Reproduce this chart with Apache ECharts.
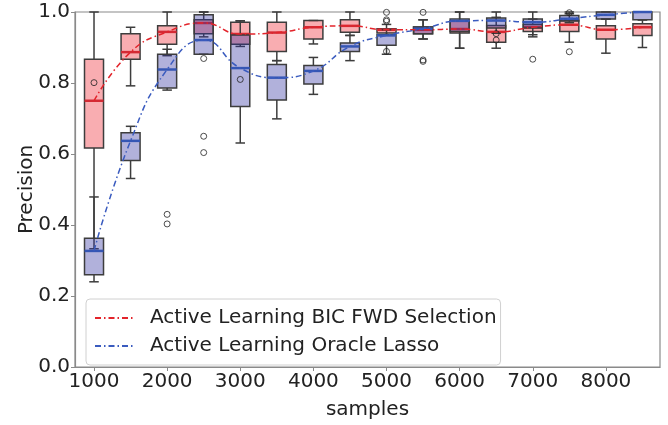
<!DOCTYPE html>
<html>
<head>
<meta charset="utf-8">
<script src="https://cdn.jsdelivr.net/npm/echarts@6/dist/echarts.min.js"></script>
<style>html,body{margin:0;padding:0;background:#fff}#c{width:668px;height:425px}</style>
</head>
<body>
<div id="c"></div>
<script>
const positions = [1000,1500,2000,2500,3000,3500,4000,4500,5000,5500,6000,6500,7000,7500,8000,8500];
const xTicks = [1000,2000,3000,4000,5000,6000,7000,8000];

// Active Learning BIC FWD Selection (red)
const bicLow  = [0.333,0.792,0.877,0.930,0.903,0.863,0.910,0.934,0.936,0.924,0.898,0.898,0.936,0.915,0.884,0.900];
const bicQ1   = [0.617,0.867,0.909,0.939,0.909,0.889,0.924,0.943,0.941,0.939,0.941,0.915,0.945,0.945,0.924,0.934];
const bicMed  = [0.750,0.887,0.944,0.969,0.938,0.942,0.957,0.961,0.950,0.950,0.952,0.944,0.957,0.964,0.950,0.957];
const bicQ3   = [0.867,0.939,0.961,0.978,0.971,0.971,0.976,0.978,0.953,0.958,0.975,0.962,0.965,0.976,0.961,0.967];
const bicHigh = [1.000,0.957,1.000,1.000,0.975,1.000,0.976,1.000,0.965,0.978,1.000,0.985,0.980,0.995,0.980,0.978];
const bicOutliers = [[3000,0.810],[5000,0.978],[5000,0.999],[5000,0.974],[5500,0.999],[7500,0.888]];

// Active Learning Oracle Lasso (blue)
const lassoLow  = [0.240,0.531,0.780,0.881,0.631,0.699,0.768,0.863,0.881,0.924,0.898,0.940,0.930,0.970,0.980,0.978];
const lassoQ1   = [0.260,0.582,0.786,0.881,0.734,0.752,0.797,0.889,0.906,0.939,0.945,0.955,0.955,0.975,0.980,0.978];
const lassoMed  = [0.327,0.637,0.838,0.921,0.842,0.815,0.834,0.903,0.934,0.953,0.975,0.976,0.971,0.981,0.992,1.000];
const lassoQ3   = [0.363,0.660,0.881,0.992,0.935,0.852,0.849,0.913,0.936,0.958,0.980,0.983,0.980,0.990,1.000,1.000];
const lassoHigh = [0.479,0.678,0.895,1.000,0.975,0.863,0.872,0.934,0.950,0.978,1.000,1.000,1.000,1.000,1.000,1.000];
const lassoOutliers = [[1000,0.801],[2000,0.430],[2000,0.403],[2500,0.869],[2500,0.650],[2500,0.604],[5000,0.889],[5500,0.865],[5500,0.861],[6500,0.939],[6500,0.921],[7000,0.867],[7500,0.998]];

const BOXW = 260;
const EDGE = '#3d3d3d';

function boxData(lo,q1,md,q3,hi){
  return positions.map((p,i)=>[p,lo[i],q1[i],md[i],q3[i],hi[i]]);
}
function makeRender(fill, medColor){
  return function(params, api){
    const x = api.value(0);
    const pLo = api.coord([x, api.value(1)]);
    const pQ1 = api.coord([x, api.value(2)]);
    const pMd = api.coord([x, api.value(3)]);
    const pQ3 = api.coord([x, api.value(4)]);
    const pHi = api.coord([x, api.value(5)]);
    const half = api.size([BOXW, 0])[0] / 2;
    const cx = pQ1[0];
    const ls = {stroke: EDGE, lineWidth: 1.5};
    return {type:'group', children:[
      {type:'line', shape:{x1:cx,y1:pQ1[1],x2:cx,y2:pLo[1]}, style:ls},
      {type:'line', shape:{x1:cx,y1:pQ3[1],x2:cx,y2:pHi[1]}, style:ls},
      {type:'line', shape:{x1:cx-half/2,y1:pLo[1],x2:cx+half/2,y2:pLo[1]}, style:ls},
      {type:'line', shape:{x1:cx-half/2,y1:pHi[1],x2:cx+half/2,y2:pHi[1]}, style:ls},
      {type:'rect', shape:{x:cx-half,y:pQ3[1],width:2*half,height:pQ1[1]-pQ3[1]}, style:{fill:fill, stroke:EDGE, lineWidth:1.5}},
      {type:'line', shape:{x1:cx-half,y1:pMd[1],x2:cx+half,y2:pMd[1]}, style:{stroke:medColor, lineWidth:2.5}}
    ]};
  };
}

const chart = echarts.init(document.getElementById('c'), null, {renderer:'canvas'});
const FONT = 'DejaVu Sans';
chart.setOption({
  animation:false,
  textStyle:{fontFamily:FONT},
  grid:{left:75,right:8,top:12,bottom:51,show:true,borderColor:'#8a8a8a',borderWidth:1.2,backgroundColor:'transparent'},
  xAxis:{
    type:'value', min:740, max:8740,
    name:'samples', nameLocation:'middle', nameGap:33, nameMoveOverlap:false,
    nameTextStyle:{fontSize:20,color:'#222',fontFamily:FONT},
    splitLine:{show:false},
    axisLine:{show:true,lineStyle:{color:'#8a8a8a',width:1.2}},
    axisTick:{show:true,customValues:xTicks,length:4,lineStyle:{color:'#8a8a8a'}},
    axisLabel:{customValues:xTicks,fontSize:20,color:'#222',margin:5,fontFamily:FONT,formatter:v=>String(v)}
  },
  yAxis:{
    type:'value', min:0, max:1, interval:0.2,
    name:'Precision', nameLocation:'middle', nameGap:38, nameMoveOverlap:false,
    nameTextStyle:{fontSize:20,color:'#222',fontFamily:FONT},
    splitLine:{show:false},
    axisLine:{show:true,lineStyle:{color:'#8a8a8a',width:1.2}},
    axisTick:{show:true,length:4,lineStyle:{color:'#8a8a8a'}},
    axisLabel:{fontSize:20,color:'#222',margin:5,fontFamily:FONT,formatter:v=>v.toFixed(1)}
  },
  legend:{
    orient:'vertical', left:86, top:299,
    data:['Active Learning BIC FWD Selection','Active Learning Oracle Lasso'],
    itemWidth:40, itemHeight:12, itemGap:8,
    itemStyle:{opacity:0},
    textStyle:{fontSize:20,color:'#222',fontFamily:FONT,padding:[0,0,0,10]},
    backgroundColor:'rgba(255,255,255,0.85)', borderColor:'#d0d0d0', borderWidth:1, borderRadius:4,
    padding:[9,4,9,8]
  },
  series:[
    {type:'custom', name:'bicBox', data:boxData(bicLow,bicQ1,bicMed,bicQ3,bicHigh), renderItem:makeRender('rgba(240,60,70,0.42)','#d42a34'), encode:{x:0,y:[1,2,3,4,5]}, z:2, silent:true},
    {type:'custom', name:'lassoBox', data:boxData(lassoLow,lassoQ1,lassoMed,lassoQ3,lassoHigh), renderItem:makeRender('rgba(50,50,160,0.38)','#3556b4'), encode:{x:0,y:[1,2,3,4,5]}, z:3, silent:true},
    {type:'scatter', name:'bicOut', data:bicOutliers, symbol:'circle', symbolSize:6, itemStyle:{color:'transparent',borderColor:'#222',borderWidth:1}, z:4},
    {type:'scatter', name:'lassoOut', data:lassoOutliers, symbol:'circle', symbolSize:6, itemStyle:{color:'transparent',borderColor:'#222',borderWidth:1}, z:4},
    {type:'line', name:'Active Learning BIC FWD Selection', data:positions.map((p,i)=>[p,bicMed[i]]), smooth:0.5, symbol:'none',
      lineStyle:{color:'#e3242b',width:1.5,type:[6,3,1.5,3]}, itemStyle:{color:'#e3242b'}, z:5},
    {type:'line', name:'Active Learning Oracle Lasso', data:positions.map((p,i)=>[p,lassoMed[i]]), smooth:0.5, symbol:'none',
      lineStyle:{color:'#3a5bbf',width:1.5,type:[6,3,1.5,3]}, itemStyle:{color:'#3a5bbf'}, z:5}
  ]
});
</script>
</body>
</html>
